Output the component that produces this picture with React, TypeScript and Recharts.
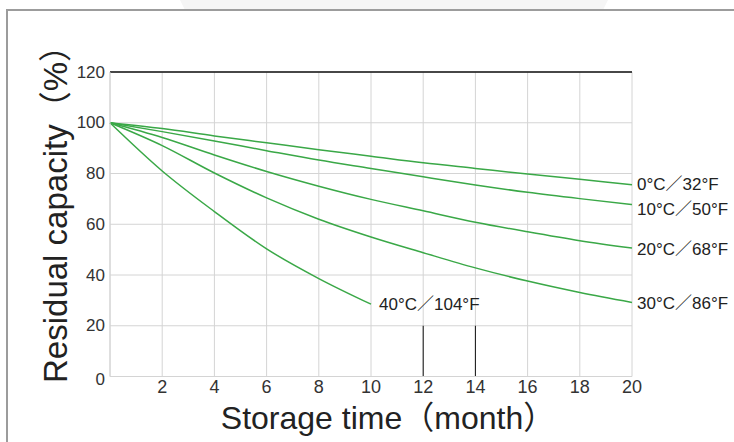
import React from "react";
import {
  LineChart,
  Line,
  XAxis,
  YAxis,
  CartesianGrid,
  ReferenceLine,
} from "recharts";

const months = [0, 2, 4, 6, 8, 10, 12, 14, 16, 18, 20];
const cap0 = [100, 97.7, 94.8, 92.1, 89.4, 86.8, 84.2, 82.0, 79.8, 77.7, 75.6];
const cap10 = [100, 96.5, 92.8, 89.0, 85.3, 82.0, 78.7, 75.5, 72.6, 70.1, 67.8];
const cap20 = [100, 94.2, 87.3, 80.8, 75.0, 69.8, 65.3, 60.8, 57.0, 53.5, 50.6];
const cap30 = [100, 91.0, 80.2, 70.4, 62.0, 55.0, 48.8, 42.8, 37.6, 33.1, 29.2];
const cap40 = [100, 81.0, 65.0, 50.3, 38.6, 28.5];

const seriesLabels = ["0°C／32°F", "10°C／50°F", "20°C／68°F", "30°C／86°F", "40°C／104°F"];
const xTicks = [2, 4, 6, 8, 10, 12, 14, 16, 18, 20];
const yTicks = [0, 20, 40, 60, 80, 100, 120];
const markMonths = [12, 14];
const markTop = 20;

const xTitle = "Storage time（month）";
const yTitle = "Residual capacity（%）";

const rows = months.map((m, i) => ({
  m,
  c0: cap0[i],
  c10: cap10[i],
  c20: cap20[i],
  c30: cap30[i],
  c40: cap40[i],
}));

const FONT = "'Liberation Sans', Arial, 'Noto Sans CJK SC', sans-serif";
const GREEN = "#3aa847";

const keys = ["c0", "c10", "c20", "c30", "c40"];
const lens = [cap0.length, cap10.length, cap20.length, cap30.length, cap40.length];
const labelDy = [0, 5, 1, 1, 0];
const labelDx = [5, 5, 5, 5, 8];

function makeLabel(si: number) {
  return (props: any) => {
    const { x, y, index } = props;
    if (index !== lens[si] - 1) return null;
    return (
      <text
        key={"lbl" + si}
        x={x + labelDx[si]}
        y={y + labelDy[si]}
        dominantBaseline="central"
        fontSize={17}
        fontFamily={FONT}
        fill="#222"
      >
        {seriesLabels[si]}
      </text>
    );
  };
}

function YTick(props: any) {
  const { x, y, payload } = props;
  const dy = payload.value === 0 ? 3 : 0;
  return (
    <text
      x={x}
      y={y + dy}
      textAnchor="end"
      dominantBaseline="central"
      fontSize={17}
      fontFamily={FONT}
      fill="#333"
    >
      {payload.value}
    </text>
  );
}

export default function App() {
  return (
    <div
      style={{
        position: "absolute",
        left: 0,
        top: 0,
        width: 734,
        height: 442,
        background: "#fff",
        overflow: "hidden",
        fontFamily: FONT,
      }}
    >
      <div
        style={{
          position: "absolute",
          left: 0,
          top: 0,
          width: 734,
          height: 10,
          background: "#f5f5f5",
          clipPath: "polygon(180px 0, 608px 0, 603px 10px, 185px 10px)",
        }}
      />
      <div
        style={{
          position: "absolute",
          left: 6,
          top: 9,
          width: 740,
          height: 450,
          borderTop: "2px solid #9c9c9c",
          borderLeft: "2px solid #9c9c9c",
        }}
      />
      <div style={{ position: "absolute", left: 0, top: 0 }}>
        <LineChart
          width={734}
          height={442}
          data={rows}
          margin={{ top: 72, right: 102, left: 0, bottom: 35.5 }}
        >
          <CartesianGrid stroke="#d4d4d4" strokeWidth={1} />
          <XAxis
            dataKey="m"
            type="number"
            domain={[0, 20]}
            ticks={xTicks}
            height={30}
            tickLine={false}
            tickSize={0}
            tickMargin={4}
            axisLine={{ stroke: "#d4d4d4" }}
            tick={{ fontSize: 18, fill: "#333", fontFamily: FONT }}
            interval={0}
          />
          <YAxis
            type="number"
            domain={[0, 120]}
            ticks={yTicks}
            width={110}
            tickLine={false}
            tickSize={0}
            tickMargin={5}
            axisLine={{ stroke: "#d4d4d4" }}
            tick={<YTick />}
            interval={0}
          />
          <ReferenceLine y={120} stroke="#111" strokeWidth={1.3} />
          {markMonths.map((mm) => (
            <ReferenceLine
              key={"mk" + mm}
              segment={[
                { x: mm, y: 0 },
                { x: mm, y: markTop },
              ]}
              stroke="#111"
              strokeWidth={1}
            />
          ))}
          {keys.map((k, si) => (
            <Line
              key={k}
              dataKey={k}
              type="monotone"
              stroke={GREEN}
              strokeWidth={1.5}
              dot={false}
              activeDot={false}
              isAnimationActive={false}
              label={makeLabel(si)}
            />
          ))}
        </LineChart>
      </div>
      <div
        style={{
          position: "absolute",
          left: 388,
          top: 418,
          transform: "translate(-50%, -50%)",
          fontSize: 32,
          color: "#222",
          whiteSpace: "nowrap",
          lineHeight: 1,
        }}
      >
        {xTitle}
      </div>
      <div
        style={{
          position: "absolute",
          left: 55,
          top: 206,
          transform: "translate(-50%, -50%) rotate(-90deg)",
          fontSize: 33,
          color: "#222",
          whiteSpace: "nowrap",
          lineHeight: 1,
        }}
      >
        {yTitle}
      </div>
    </div>
  );
}
